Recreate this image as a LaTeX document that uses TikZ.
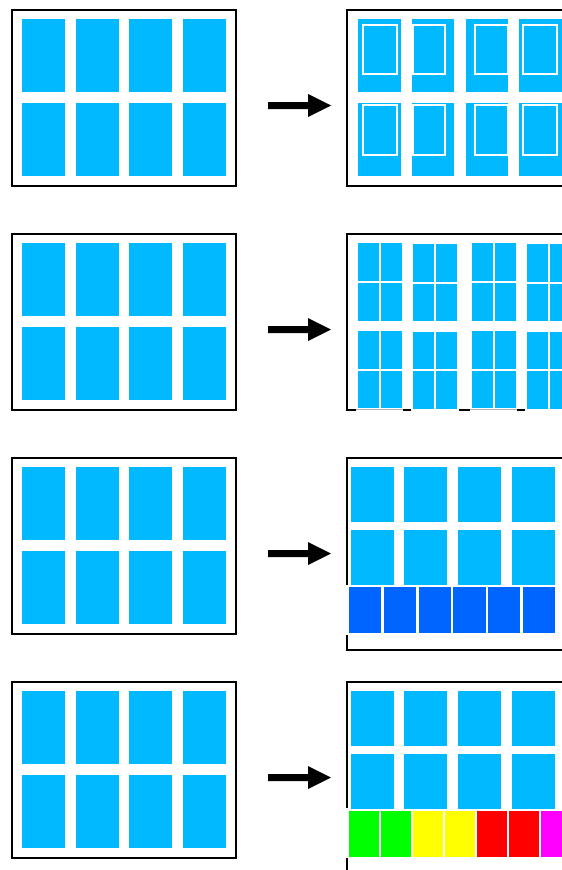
\documentclass[tikz,border=0pt]{standalone}
\definecolor{skyb}{RGB}{0,185,255}
\definecolor{darkb}{RGB}{0,100,255}
\definecolor{grn}{RGB}{0,255,0}
\definecolor{yel}{RGB}{255,255,0}
\definecolor{rd}{RGB}{255,0,0}
\definecolor{mag}{RGB}{255,0,255}
\begin{document}
\begin{tikzpicture}[x=1pt,y=-1pt,
  frame/.style={draw=black,line width=2pt},
  pane/.style={fill=skyb},
  inner/.style={draw=white,line width=2pt},
  arrowshape/.style={fill=black}]
\clip (0,0) rectangle (562,870);
\fill[white] (0,0) rectangle (562,870);
% left panels and arrows
\foreach \dy in {0,224,448,672}{
  \draw[frame] (12,10+\dy) rectangle (236,186+\dy);
  \foreach \x in {22,76,129,183}{
    \foreach \y in {19,103}{
      \fill[pane] (\x,\y+\dy) rectangle ++(43,73);
    }
  }
  \fill[arrowshape] (268,102+\dy) -- (308,102+\dy) -- (308,94+\dy) -- (331,105.5+\dy)
     -- (308,117+\dy) -- (308,109+\dy) -- (268,109+\dy) -- cycle;
}
% right panel 1
\draw[frame] (563,10) -- (347,10) -- (347,186) -- (563,186);
\foreach \x in {358,411.7,465.7,519.3}{
  \foreach \y in {19,103.3}{
    \fill[pane] (\x,\y) rectangle ++(42.7,73);
  }
}
\foreach \a/\b in {363.3/396.7,412.5/445,475.3/507.5,523.3/556.7}{
  \draw[inner] (\a,25.3) rectangle (\b,74);
  \draw[inner] (\a,105.3) rectangle (\b,155);
}
% right panel 2
\draw[frame] (563,234) -- (347,234) -- (347,411);
\draw[black,line width=2pt] (346,410) -- (356,410) (403.3,410) -- (410.7,410)
  (459,410) -- (470,410) (517.3,410) -- (525,410);
\draw[gray!60,line width=1pt] (356,409.5) -- (403.3,409.5) (470,409.5) -- (517.3,409.5);
\foreach \gx/\o in {358/0,413/0.7,472/0,527/0.7}{
  \foreach \cx in {0,23}{
    \foreach \ry in {243.3,283,331,370.7}{
      \fill[pane] (\gx+\cx,\ry+\o) rectangle ++(21,37.7);
    }
  }
}
% right panel 3
\draw[frame] (563,457.7) -- (347,457.7) -- (347,585);
\draw[frame] (347,635) -- (347,650) -- (563,650);
\foreach \x in {351,404.3,458.3,512}{
  \foreach \y in {467,530}{
    \fill[pane] (\x,\y) rectangle ++(43,55);
  }
}
\foreach \i in {0,...,5}{
  \fill[darkb] (349+34.75*\i,586.7) rectangle ++(32.3,46);
}
% right panel 4
\draw[frame] (563,681.7) -- (347,681.7) -- (347,808.3);
\draw[frame] (347,858.3) -- (347,871);
\foreach \x in {351,404.3,458.3,512}{
  \foreach \y in {691,754}{
    \fill[pane] (\x,\y) rectangle ++(43,55);
  }
}
\foreach \i/\c in {0/grn,1/grn,2/yel,3/yel,4/rd,5/rd,6/mag}{
  \fill[\c] (349+32*\i,810.7) rectangle ++(30,46.3);
}
\end{tikzpicture}
\end{document}
